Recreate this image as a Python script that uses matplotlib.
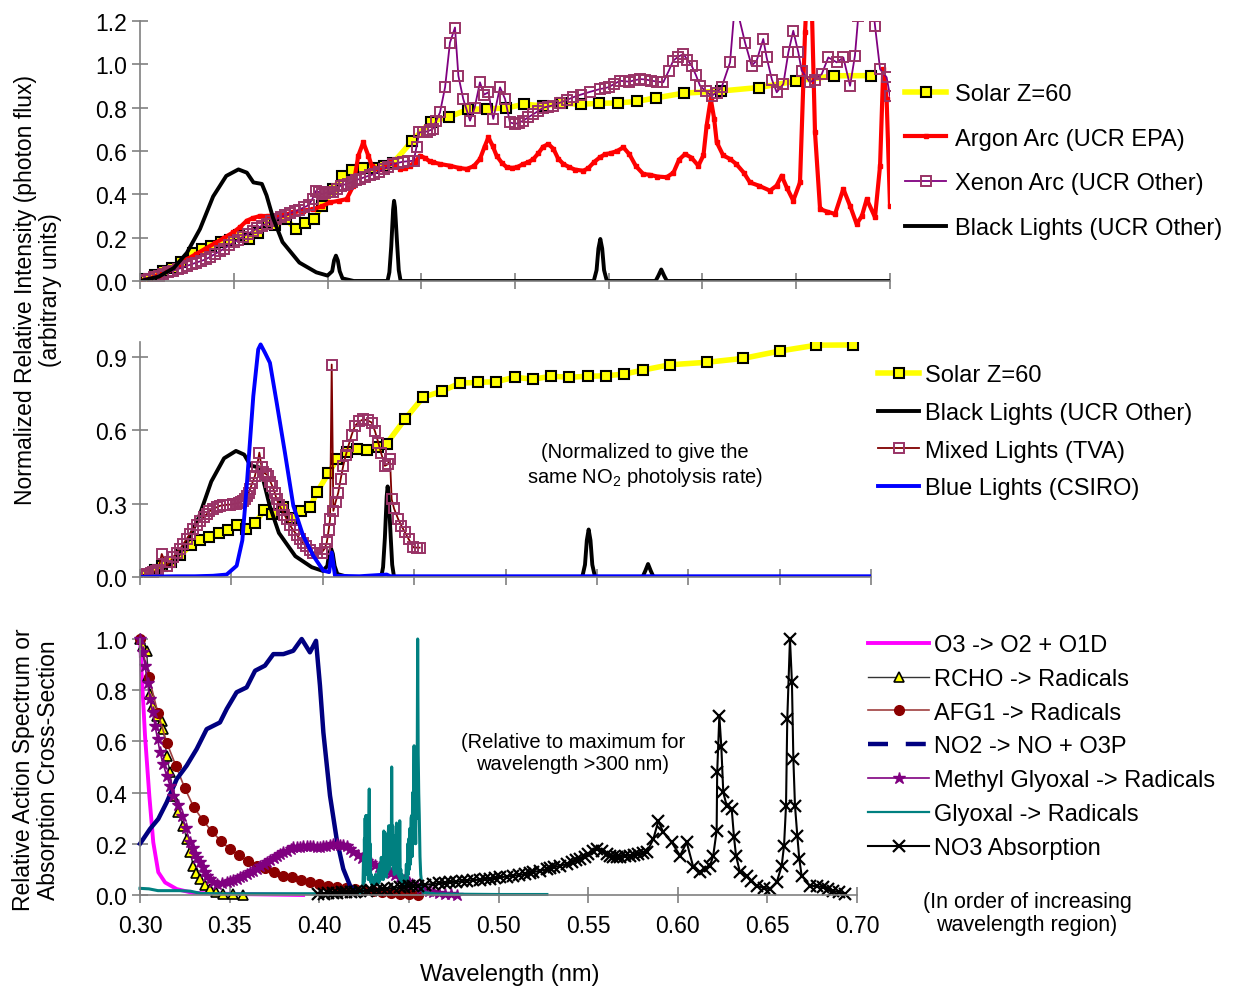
import numpy as np
import matplotlib
matplotlib.use("Agg")
import matplotlib.pyplot as plt
from matplotlib.lines import Line2D

plt.rcParams['font.family'] = ['Liberation Sans', 'DejaVu Sans']

# ---------------- data (wavelength in microns, relative values) ----------------
# top / middle panel: solar spectrum at Z=60
solar_wl = [0.300, 0.303, 0.308, 0.312, 0.317, 0.322, 0.328, 0.333, 0.338, 0.343,
            0.348, 0.353, 0.358, 0.363, 0.368, 0.372, 0.378, 0.383, 0.388, 0.393,
            0.397, 0.403, 0.408, 0.413, 0.419, 0.424, 0.430, 0.435, 0.445, 0.455,
            0.465, 0.475, 0.485, 0.495, 0.505, 0.515, 0.525, 0.535, 0.545, 0.555,
            0.565, 0.575, 0.590, 0.610, 0.630, 0.650, 0.670, 0.690]
solar_val = [0.0, 0.01, 0.03, 0.045, 0.06, 0.09, 0.13, 0.15, 0.162, 0.18,
             0.19, 0.212, 0.195, 0.22, 0.274, 0.257, 0.284, 0.24, 0.268, 0.285,
             0.348, 0.423, 0.483, 0.512, 0.522, 0.52, 0.53, 0.545, 0.645, 0.735,
             0.758, 0.792, 0.795, 0.798, 0.816, 0.808, 0.82, 0.816, 0.82, 0.822,
             0.829, 0.845, 0.867, 0.877, 0.893, 0.923, 0.947, 0.948]

# black lights (same normalisation in both upper panels)
bl_wl = [0.300, 0.310, 0.318, 0.325, 0.332, 0.339, 0.346, 0.3525, 0.357, 0.3605,
         0.365, 0.3675, 0.371, 0.376, 0.385, 0.394, 0.400, 0.4025, 0.4035, 0.4045,
         0.4055, 0.4065, 0.408, 0.414, 0.432, 0.433, 0.434, 0.435, 0.4355, 0.436,
         0.437, 0.438, 0.439, 0.542, 0.5435, 0.5445, 0.5455, 0.5465, 0.5475, 0.549,
         0.575, 0.5765, 0.578, 0.5795, 0.581, 0.700]
bl_val = [0.0, 0.02, 0.06, 0.13, 0.24, 0.39, 0.485, 0.515, 0.50, 0.455,
          0.448, 0.395, 0.29, 0.18, 0.085, 0.04, 0.025, 0.045, 0.095, 0.117,
          0.095, 0.045, 0.012, 0.0, 0.0, 0.04, 0.16, 0.33, 0.37, 0.34,
          0.19, 0.05, 0.0, 0.0, 0.05, 0.15, 0.194, 0.15, 0.05, 0.0,
          0.0, 0.025, 0.053, 0.025, 0.0, 0.0]

# argon arc (UCR EPA)
ar_wl = [0.300, 0.305, 0.310, 0.315, 0.320, 0.325, 0.330, 0.335, 0.340, 0.345,
         0.3498, 0.3535, 0.3569, 0.360, 0.364, 0.368, 0.3729, 0.377, 0.3818, 0.387,
         0.3924, 0.397, 0.4013, 0.406, 0.4102, 0.4138, 0.4164, 0.4191, 0.4218, 0.4236,
         0.426, 0.428, 0.4305, 0.4333, 0.436, 0.4387, 0.4415, 0.444, 0.4468, 0.4493,
         0.452, 0.4545, 0.4564, 0.460, 0.4653, 0.470, 0.4742, 0.478, 0.4813, 0.4838,
         0.4858, 0.488, 0.4902, 0.493, 0.4956, 0.4985, 0.501, 0.5044, 0.507, 0.5098,
         0.5125, 0.515, 0.5178, 0.5205, 0.523, 0.5258, 0.529, 0.532, 0.5364, 0.539,
         0.5423, 0.5453, 0.548, 0.551, 0.5545, 0.5578, 0.561, 0.5645, 0.5684, 0.572,
         0.576, 0.5809, 0.5845, 0.5875, 0.5907, 0.594, 0.5978, 0.6005, 0.6022, 0.6044,
         0.6062, 0.6076, 0.611, 0.6147, 0.618, 0.622, 0.6253, 0.630, 0.636, 0.6395,
         0.6422, 0.645, 0.6484, 0.652, 0.6547, 0.6564, 0.6582, 0.660, 0.6627, 0.6665,
         0.6707, 0.6751, 0.6787, 0.6822, 0.685, 0.6876, 0.692, 0.6947, 0.6964, 0.6982,
         0.700]
ar_val = [0.0, 0.01, 0.03, 0.05, 0.07, 0.10, 0.125, 0.15, 0.175, 0.20,
          0.225, 0.25, 0.278, 0.29, 0.30, 0.30, 0.30, 0.305, 0.317, 0.325,
          0.332, 0.345, 0.363, 0.37, 0.378, 0.44, 0.578, 0.64, 0.578, 0.532,
          0.52, 0.517, 0.53, 0.548, 0.535, 0.517, 0.522, 0.532, 0.55, 0.578,
          0.568, 0.552, 0.548, 0.54, 0.532, 0.522, 0.517, 0.53, 0.563, 0.62,
          0.663, 0.625, 0.578, 0.545, 0.525, 0.522, 0.525, 0.54, 0.548, 0.563,
          0.59, 0.62, 0.632, 0.61, 0.565, 0.54, 0.525, 0.514, 0.509, 0.52,
          0.55, 0.571, 0.585, 0.59, 0.60, 0.617, 0.585, 0.53, 0.494, 0.49,
          0.482, 0.479, 0.50, 0.56, 0.586, 0.57, 0.532, 0.58, 0.717, 0.84,
          0.75, 0.64, 0.58, 0.563, 0.54, 0.50, 0.455, 0.44, 0.417, 0.44,
          0.486, 0.43, 0.371, 0.455, 1.15, 1.45, 1.30, 0.686, 0.332, 0.32,
          0.309, 0.425, 0.347, 0.263, 0.30, 0.378, 0.294, 0.532, 0.978, 0.84,
          0.347]

# xenon arc (UCR Other)
xe_wl = [0.300, 0.3025, 0.305, 0.3075, 0.310, 0.3125, 0.315, 0.3175, 0.320, 0.3225,
         0.325, 0.3275, 0.330, 0.3325, 0.335, 0.3375, 0.340, 0.3425, 0.345, 0.3475,
         0.350, 0.3525, 0.355, 0.3575, 0.360, 0.3625, 0.365, 0.3675, 0.370, 0.3725,
         0.375, 0.3775, 0.380, 0.3825, 0.385, 0.3875, 0.390, 0.392, 0.394, 0.3955,
         0.397, 0.3985, 0.400, 0.4015, 0.403, 0.405, 0.407, 0.409, 0.411, 0.413,
         0.415, 0.4175, 0.420, 0.4225, 0.425, 0.4275, 0.430, 0.4325, 0.435, 0.4375,
         0.440, 0.443, 0.446, 0.4475, 0.449, 0.451, 0.453, 0.4545, 0.456, 0.458,
         0.460, 0.4627, 0.4653, 0.468, 0.4698, 0.4724, 0.476, 0.4785, 0.4813, 0.4835,
         0.4858, 0.4884, 0.492, 0.4947, 0.4973, 0.500, 0.502, 0.5044, 0.507, 0.5098,
         0.5125, 0.515, 0.5175, 0.520, 0.524, 0.5276, 0.531, 0.535, 0.540, 0.5453,
         0.548, 0.550, 0.553, 0.556, 0.5585, 0.561, 0.5635, 0.5667, 0.5695, 0.5725,
         0.576, 0.5791, 0.582, 0.5844, 0.587, 0.5898, 0.592, 0.5942, 0.5965, 0.5987,
         0.6018, 0.6049, 0.6075, 0.6102, 0.6147, 0.617, 0.6191, 0.6227, 0.6262, 0.6289,
         0.6324, 0.6342, 0.637, 0.6396, 0.6431, 0.6458, 0.6484, 0.6511, 0.6529, 0.6573,
         0.660, 0.6636, 0.6671, 0.6716, 0.6751, 0.6787, 0.6813, 0.6831, 0.687, 0.690,
         0.692, 0.6947, 0.6982, 0.700, 0.7036]
xe_val = [0.0, 0.005, 0.01, 0.017, 0.025, 0.032, 0.04, 0.047, 0.055, 0.062,
          0.07, 0.077, 0.085, 0.092, 0.10, 0.112, 0.125, 0.137, 0.15, 0.164,
          0.178, 0.191, 0.205, 0.218, 0.23, 0.243, 0.255, 0.265, 0.275, 0.285,
          0.295, 0.303, 0.312, 0.321, 0.33, 0.34, 0.35, 0.38, 0.417, 0.41,
          0.40, 0.405, 0.41, 0.41, 0.41, 0.425, 0.44, 0.445, 0.45, 0.457,
          0.465, 0.472, 0.48, 0.487, 0.494, 0.505, 0.515, 0.528, 0.54, 0.545,
          0.55, 0.553, 0.555, 0.62, 0.686, 0.688, 0.69, 0.695, 0.70, 0.74,
          0.778, 0.894, 1.10, 1.17, 0.947, 0.84, 0.74, 0.80, 0.917, 0.86,
          0.871, 0.748, 0.894, 0.84, 0.732, 0.725, 0.73, 0.74, 0.755, 0.77,
          0.785, 0.80, 0.805, 0.81, 0.823, 0.835, 0.848, 0.86, 0.873, 0.886,
          0.89, 0.895, 0.91, 0.924, 0.922, 0.92, 0.926, 0.932, 0.93, 0.925,
          0.92, 0.917, 0.97, 1.017, 1.035, 1.048, 1.02, 0.994, 0.95, 0.901,
          0.875, 0.855, 0.87, 0.894, 1.009, 1.25, 1.23, 1.10, 0.994, 1.017,
          1.117, 1.032, 0.93, 0.871, 0.909, 1.055, 1.155, 1.055, 0.971, 0.917,
          0.93, 0.955, 1.032, 1.009, 1.032, 0.901, 1.04, 1.224, 1.40, 1.35,
          1.178, 0.978, 0.94, 0.855, 0.717]

# mixed lights (TVA)
mx_wl = [0.300, 0.302, 0.304, 0.306, 0.3073, 0.309, 0.310, 0.3119, 0.3146, 0.3165,
         0.318, 0.320, 0.3219, 0.3237, 0.3255, 0.3273, 0.3292, 0.331, 0.333, 0.3348,
         0.3365, 0.338, 0.340, 0.342, 0.3438, 0.3455, 0.3475, 0.3493, 0.3511, 0.3525,
         0.354, 0.3553, 0.3565, 0.3575, 0.3585, 0.3595, 0.3602, 0.3615, 0.3629, 0.364,
         0.3653, 0.3665, 0.3675, 0.369, 0.3702, 0.3713, 0.3725, 0.3737, 0.3748, 0.376,
         0.3775, 0.379, 0.3803, 0.382, 0.384, 0.3858, 0.3876, 0.389, 0.391, 0.393,
         0.3948, 0.397, 0.3994, 0.401, 0.4022, 0.4032, 0.404, 0.4049, 0.4058, 0.407,
         0.4085, 0.4098, 0.4112, 0.4126, 0.414, 0.4158, 0.4176, 0.420, 0.4222, 0.4245,
         0.4268, 0.4286, 0.4304, 0.432, 0.434, 0.4355, 0.4368, 0.4377, 0.439, 0.4413,
         0.443, 0.445, 0.447, 0.4496, 0.4515, 0.453]
mx_val = [0.005, 0.008, 0.012, 0.016, 0.02, 0.026, 0.03, 0.094, 0.046, 0.062,
          0.08, 0.097, 0.114, 0.135, 0.155, 0.176, 0.196, 0.214, 0.23, 0.245,
          0.257, 0.268, 0.278, 0.285, 0.291, 0.293, 0.295, 0.296, 0.298, 0.30,
          0.303, 0.307, 0.311, 0.32, 0.33, 0.345, 0.359, 0.385, 0.413, 0.45,
          0.508, 0.45, 0.427, 0.42, 0.413, 0.39, 0.37, 0.345, 0.318, 0.296,
          0.275, 0.255, 0.236, 0.212, 0.19, 0.172, 0.155, 0.14, 0.125, 0.112,
          0.10, 0.098, 0.10, 0.115, 0.141, 0.19, 0.236, 0.868, 0.27, 0.305,
          0.345, 0.40, 0.454, 0.497, 0.535, 0.58, 0.617, 0.636, 0.644, 0.64,
          0.631, 0.595, 0.549, 0.505, 0.454, 0.46, 0.481, 0.318, 0.28, 0.236,
          0.21, 0.182, 0.155, 0.121, 0.12, 0.12]

# blue lights (CSIRO)
bu_wl = [0.300, 0.310, 0.320, 0.330, 0.340, 0.3474, 0.3529, 0.356, 0.3584, 0.362,
         0.3647, 0.366, 0.3684, 0.3711, 0.3748, 0.3793, 0.3839, 0.3893, 0.3948, 0.4003,
         0.4035, 0.4049, 0.4067, 0.420, 0.435, 0.437, 0.500, 0.600, 0.702]
bu_val = [0.0, 0.002, 0.003, 0.003, 0.005, 0.01, 0.046, 0.15, 0.372, 0.739,
          0.93, 0.95, 0.916, 0.875, 0.712, 0.508, 0.291, 0.168, 0.087, 0.026,
          0.02, 0.10, 0.005, 0.003, 0.01, 0.003, 0.003, 0.003, 0.003]

# bottom panel: action spectra / absorption cross sections
o3_wl = [0.300, 0.301, 0.3028, 0.3052, 0.3074, 0.3102, 0.314, 0.3205, 0.3297, 0.352, 0.391]
o3_val = [1.0, 0.857, 0.622, 0.388, 0.206, 0.089, 0.049, 0.023, 0.008, 0.004, 0.0]

rcho_wl = [0.300, 0.3019, 0.3037, 0.3046, 0.3056, 0.307, 0.3093, 0.3121, 0.313, 0.3149,
           0.3167, 0.3186, 0.3214, 0.3242, 0.326, 0.3279, 0.3297, 0.3315, 0.3335, 0.336,
           0.339, 0.3425, 0.3465, 0.352, 0.3576]
rcho_val = [1.0, 0.974, 0.954, 0.857, 0.785, 0.74, 0.70, 0.681, 0.648, 0.544,
            0.479, 0.388, 0.323, 0.271, 0.219, 0.167, 0.115, 0.085, 0.0625, 0.04,
            0.023, 0.012, 0.004, 0.002, 0.0]

afg1_wl = [0.300, 0.305, 0.310, 0.315, 0.320, 0.325, 0.330, 0.335, 0.340, 0.345,
           0.350, 0.355, 0.360, 0.365, 0.370, 0.375, 0.380, 0.385, 0.390, 0.395,
           0.400, 0.405, 0.410, 0.415, 0.420, 0.425, 0.430, 0.435, 0.440, 0.445,
           0.450, 0.455]
afg1_val = [1.0, 0.85, 0.71, 0.594, 0.505, 0.417, 0.343, 0.293, 0.249, 0.212,
            0.18, 0.156, 0.134, 0.115, 0.104, 0.089, 0.076, 0.069, 0.058, 0.049,
            0.043, 0.034, 0.03, 0.026, 0.023, 0.018, 0.014, 0.01, 0.007, 0.004,
            0.002, 0.0]

no2_wl = [0.300, 0.3056, 0.3102, 0.3149, 0.3205, 0.326, 0.3316, 0.3372, 0.3409, 0.3446,
          0.3484, 0.3539, 0.3595, 0.3642, 0.3697, 0.3744, 0.380, 0.3855, 0.3902, 0.3948,
          0.3982, 0.4004, 0.4023, 0.406, 0.4097, 0.4134, 0.4172, 0.4209]
no2_val = [0.2, 0.258, 0.297, 0.362, 0.453, 0.505, 0.57, 0.648, 0.661, 0.674,
           0.727, 0.792, 0.811, 0.876, 0.896, 0.941, 0.941, 0.954, 1.0, 0.948,
           0.993, 0.818, 0.635, 0.388, 0.219, 0.102, 0.036, 0.01]

mgly_wl = [0.300, 0.3014, 0.3028, 0.3042, 0.3056, 0.307, 0.3084, 0.3098, 0.3112, 0.313,
           0.3149, 0.3168, 0.3186, 0.321, 0.3233, 0.3256, 0.3279, 0.3293, 0.3307, 0.332,
           0.3335, 0.335, 0.336, 0.3375, 0.339, 0.341, 0.3428, 0.3455, 0.3484, 0.350,
           0.352, 0.354, 0.3558, 0.3577, 0.3595, 0.3614, 0.3632, 0.365, 0.367, 0.369,
           0.3707, 0.3725, 0.3745, 0.3763, 0.3781, 0.380, 0.382, 0.384, 0.3855, 0.3875,
           0.3893, 0.391, 0.393, 0.395, 0.3967, 0.3985, 0.4004, 0.402, 0.404, 0.406,
           0.4078, 0.4097, 0.4115, 0.4135, 0.4153, 0.4172, 0.419, 0.4215, 0.424, 0.4265,
           0.429, 0.431, 0.4335, 0.4357, 0.438, 0.440, 0.4425, 0.4451, 0.4475, 0.450,
           0.452, 0.4544, 0.457, 0.459, 0.461, 0.4636, 0.467, 0.470, 0.4735, 0.4767]
mgly_val = [1.0, 0.95, 0.896, 0.83, 0.766, 0.713, 0.661, 0.61, 0.557, 0.51,
            0.466, 0.427, 0.388, 0.35, 0.31, 0.26, 0.206, 0.183, 0.16, 0.143,
            0.128, 0.108, 0.09, 0.075, 0.0625, 0.052, 0.043, 0.045, 0.049, 0.053,
            0.058, 0.063, 0.069, 0.075, 0.082, 0.088, 0.095, 0.103, 0.112, 0.12,
            0.128, 0.137, 0.145, 0.153, 0.16, 0.167, 0.173, 0.18, 0.186, 0.187,
            0.188, 0.19, 0.193, 0.192, 0.19, 0.188, 0.186, 0.19, 0.193, 0.196,
            0.199, 0.198, 0.197, 0.195, 0.193, 0.18, 0.168, 0.155, 0.145, 0.134,
            0.125, 0.118, 0.11, 0.102, 0.093, 0.085, 0.077, 0.069, 0.06, 0.052,
            0.044, 0.036, 0.029, 0.022, 0.016, 0.01, 0.007, 0.004, 0.002, 0.0]

gly_wl = [0.300, 0.305, 0.310, 0.316, 0.322, 0.328, 0.334, 0.345, 0.360, 0.380,
          0.400, 0.420, 0.4240, 0.4244, 0.4247, 0.4250, 0.4252, 0.4254, 0.4256, 0.4258,
          0.4260, 0.4262, 0.4265, 0.4268, 0.4271, 0.4274, 0.4277, 0.4279, 0.4282, 0.4284,
          0.4287, 0.4290, 0.4294, 0.4298, 0.4302, 0.4306, 0.4310, 0.4314, 0.4318, 0.4322,
          0.4326, 0.4330, 0.4334, 0.4338, 0.4342, 0.4346, 0.4350, 0.4354, 0.4357, 0.4360,
          0.4363, 0.4366, 0.4369, 0.4372, 0.4375, 0.4378, 0.4381, 0.4384, 0.4387, 0.4390,
          0.4393, 0.4396, 0.4399, 0.4402, 0.4404, 0.4407, 0.4410, 0.4413, 0.4416, 0.4419,
          0.4422, 0.4425, 0.4428, 0.4431, 0.4434, 0.4437, 0.4440, 0.4443, 0.4446, 0.4449,
          0.4452, 0.4455, 0.4458, 0.4462, 0.4466, 0.4470, 0.4474, 0.4478, 0.4482, 0.4486,
          0.4490, 0.4494, 0.4497, 0.4500, 0.4503, 0.4506, 0.4509, 0.4512, 0.4515, 0.4518,
          0.4521, 0.4524, 0.4527, 0.4529, 0.4532, 0.4535, 0.4538, 0.4541, 0.4544, 0.4547,
          0.4549, 0.4552, 0.4555, 0.4558, 0.4562, 0.4566, 0.4571, 0.4580, 0.465, 0.480,
          0.500, 0.527]
gly_val = [0.026, 0.024, 0.017, 0.017, 0.017, 0.015, 0.006, 0.005, 0.005, 0.005,
           0.005, 0.006, 0.01, 0.04, 0.15, 0.05, 0.22, 0.10, 0.30, 0.12,
           0.31, 0.10, 0.31, 0.08, 0.22, 0.06, 0.30, 0.414, 0.08, 0.2,
           0.05, 0.08, 0.04, 0.065, 0.04, 0.07, 0.04, 0.08, 0.05, 0.06,
           0.04, 0.10, 0.05, 0.12, 0.06, 0.147, 0.07, 0.12, 0.06, 0.25,
           0.08, 0.244, 0.10, 0.17, 0.07, 0.2, 0.09, 0.22, 0.27, 0.10,
           0.27, 0.12, 0.25, 0.15, 0.5, 0.12, 0.27, 0.10, 0.22, 0.08,
           0.23, 0.10, 0.18, 0.281, 0.09, 0.2, 0.08, 0.2, 0.07, 0.29,
           0.06, 0.10, 0.05, 0.08, 0.04, 0.065, 0.04, 0.065, 0.05, 0.12,
           0.06, 0.2, 0.08, 0.22, 0.10, 0.26, 0.12, 0.30, 0.31, 0.15,
           0.40, 0.20, 0.45, 0.583, 0.25, 0.35, 0.20, 0.44, 0.30, 0.60,
           1.0, 0.55, 0.40, 0.31, 0.15, 0.08, 0.05, 0.01, 0.004, 0.003,
           0.002, 0.002]

no3_wl = [0.3995, 0.4025, 0.405, 0.4075, 0.410, 0.4125, 0.415, 0.4175, 0.420, 0.423,
          0.4265, 0.429, 0.432, 0.435, 0.438, 0.4415, 0.4451, 0.4475, 0.450, 0.4525,
          0.455, 0.459, 0.4636, 0.467, 0.470, 0.473, 0.4765, 0.4795, 0.4823, 0.486,
          0.4897, 0.4925, 0.495, 0.498, 0.5008, 0.5045, 0.508, 0.5115, 0.515, 0.5175,
          0.5194, 0.523, 0.5269, 0.529, 0.531, 0.5345, 0.538, 0.541, 0.5435, 0.5455,
          0.548, 0.550, 0.5525, 0.5548, 0.5575, 0.5604, 0.562, 0.564, 0.566, 0.568,
          0.5705, 0.5734, 0.5755, 0.578, 0.5805, 0.5827, 0.5864, 0.5892, 0.5919, 0.5966,
          0.6013, 0.605, 0.6087, 0.6124, 0.615, 0.618, 0.6198, 0.6217, 0.622, 0.6232,
          0.6243, 0.6254, 0.6273, 0.6301, 0.6314, 0.6325, 0.6347, 0.6385, 0.641, 0.644,
          0.648, 0.6515, 0.6552, 0.658, 0.6593, 0.6604, 0.6611, 0.6626, 0.6637, 0.6645,
          0.6654, 0.6667, 0.6678, 0.6691, 0.6738, 0.6775, 0.6812, 0.684, 0.6868, 0.690,
          0.6933]
no3_val = [0.003, 0.005, 0.006, 0.008, 0.009, 0.01, 0.011, 0.012, 0.013, 0.015,
           0.017, 0.019, 0.021, 0.023, 0.025, 0.028, 0.03, 0.032, 0.034, 0.036,
           0.037, 0.04, 0.043, 0.046, 0.048, 0.05, 0.052, 0.054, 0.056, 0.058,
           0.06, 0.062, 0.064, 0.066, 0.069, 0.072, 0.075, 0.078, 0.082, 0.086,
           0.089, 0.095, 0.1, 0.104, 0.108, 0.115, 0.121, 0.13, 0.135, 0.141,
           0.15, 0.16, 0.17, 0.18, 0.17, 0.16, 0.152, 0.147, 0.148, 0.15,
           0.152, 0.154, 0.157, 0.16, 0.163, 0.167, 0.219, 0.29, 0.245, 0.206,
           0.154, 0.206, 0.108, 0.089, 0.10, 0.115, 0.154, 0.251, 0.479, 0.70,
           0.58, 0.401, 0.349, 0.336, 0.225, 0.154, 0.089, 0.076, 0.055, 0.036,
           0.028, 0.023, 0.049, 0.115, 0.193, 0.349, 0.687, 1.0, 0.831, 0.531,
           0.349, 0.232, 0.141, 0.076, 0.036, 0.035, 0.03, 0.022, 0.017, 0.01,
           0.004]

xticks = [0.30, 0.35, 0.40, 0.45, 0.50, 0.55, 0.60, 0.65, 0.70]

# ---------------- figure ----------------
W, H = 1233, 987
fig = plt.figure(figsize=(W / 100, H / 100), dpi=100)


def box(l, t, r, b):
    return [l / W, 1 - b / H, (r - l) / W, (b - t) / H]


ax1 = fig.add_axes(box(140, 22, 890, 282))
ax2 = fig.add_axes(box(140, 343, 871, 578))
ax3 = fig.add_axes(box(140, 640, 857, 896))

for ax in (ax1, ax2, ax3):
    for s in ('top', 'right'):
        ax.spines[s].set_visible(False)
    for s in ('left', 'bottom'):
        ax.spines[s].set_color('#808080')
        ax.spines[s].set_linewidth(1.2)
    ax.tick_params(direction='inout', length=11, width=1.2, color='#808080',
                   labelsize=16.5, labelcolor='black', pad=4)
    ax.set_xlim(0.30, 0.70)
    ax.set_xticks(xticks)

# top panel
ax1.plot(solar_wl, solar_val, color='yellow', lw=4, marker='s', ms=6.5,
         mfc='yellow', mec='black', mew=1.5, label='Solar Z=60')
ax1.plot(ar_wl, ar_val, color='red', lw=3, marker='s', ms=3.5, mfc='red',
         mec='red', label='Argon Arc (UCR EPA)')
ax1.plot(xe_wl, xe_val, color='#800080', lw=1.3, marker='s', ms=7, mfc='none',
         mec='#993366', mew=1.4, label='Xenon Arc (UCR Other)')
ax1.plot(bl_wl, bl_val, color='black', lw=2.8, label='Black Lights (UCR Other)')
ax1.set_ylim(0, 1.2)
ax1.set_yticks([0.0, 0.2, 0.4, 0.6, 0.8, 1.0, 1.2])
ax1.set_yticklabels(['%.1f' % v for v in ax1.get_yticks()])
ax1.tick_params(labelbottom=False)
ax1.legend(loc='upper left', bbox_to_anchor=(905 / W, 1 - 84 / H),
           bbox_transform=fig.transFigure, frameon=False, fontsize=17,
           handlelength=1.75, handletextpad=0.35, labelspacing=0.96,
           borderpad=0, borderaxespad=0)

# middle panel
ax2.plot(solar_wl, solar_val, color='yellow', lw=4, marker='s', ms=6.5,
         mfc='yellow', mec='black', mew=1.5, label='Solar Z=60')
ax2.plot(bl_wl, bl_val, color='black', lw=2.8, label='Black Lights (UCR Other)')
ax2.plot(mx_wl, mx_val, color='#800000', lw=1.3, marker='s', ms=7, mfc='none',
         mec='#993366', mew=1.4, label='Mixed Lights (TVA)')
ax2.plot(bu_wl, bu_val, color='#0000FF', lw=2.8, label='Blue Lights (CSIRO)')
ax2.set_ylim(0, 0.96)
ax2.set_yticks([0.0, 0.3, 0.6, 0.9])
ax2.set_yticklabels(['%.1f' % v for v in ax2.get_yticks()])
ax2.tick_params(labelbottom=False)
ax2.legend(loc='upper left', bbox_to_anchor=(878 / W, 1 - 365 / H),
           bbox_transform=fig.transFigure, frameon=False, fontsize=17,
           handlelength=1.75, handletextpad=0.25, labelspacing=0.67,
           borderpad=0, borderaxespad=0)
fig.text(645 / W, 1 - 466 / H,
         '(Normalized to give the\nsame NO$\\mathregular{_2}$ photolysis rate)',
         ha='center', va='center', fontsize=14.5, linespacing=1.2)

# bottom panel
ax3.plot(o3_wl, o3_val, color='#FF00FF', lw=2.8, label='O3 -> O2 + O1D', clip_on=False)
ax3.plot(rcho_wl, rcho_val, color='#333333', lw=1, marker='^', ms=7, mfc='yellow',
         mec='black', mew=1.2, label='RCHO -> Radicals', clip_on=False)
ax3.plot(afg1_wl, afg1_val, color='#A04040', lw=1.2, marker='o', ms=7,
         mfc='#8B0000', mec='#8B0000', label='AFG1 -> Radicals', clip_on=False)
ax3.plot(no2_wl, no2_val, color='#000080', lw=3.2,
         label='NO2 -> NO + O3P', clip_on=False)
ax3.plot(mgly_wl, mgly_val, color='#800080', lw=1.2, marker='*', ms=9,
         mfc='#800080', mec='#800080', label='Methyl Glyoxal -> Radicals', clip_on=False)
ax3.plot(gly_wl, gly_val, color='#008080', lw=2.2, label='Glyoxal -> Radicals', clip_on=False)
ax3.plot(no3_wl, no3_val, color='black', lw=1.5, marker='x', ms=9, mew=1.6,
         label='NO3 Absorption', clip_on=False)
ax3.set_ylim(0, 1.0)
ax3.set_yticks([0.0, 0.2, 0.4, 0.6, 0.8, 1.0])
ax3.set_yticklabels(['%.1f' % v for v in ax3.get_yticks()])
ax3.set_xticklabels(['%.2f' % v for v in xticks])
ax3.tick_params(axis='x', pad=8)

handles, labels = ax3.get_legend_handles_labels()
handles[3] = Line2D([], [], color='#000080', lw=3.2, linestyle=(0, (4.5, 4.0)))
handles[5] = Line2D([], [], color='#008080', lw=1.6)
ax3.legend(handles, labels, loc='upper left', bbox_to_anchor=(868 / W, 1 - 635 / H),
           bbox_transform=fig.transFigure, frameon=False, fontsize=17,
           handlelength=2.6, handletextpad=0.2, labelspacing=0.5,
           borderpad=0, borderaxespad=0)
fig.text(573 / W, 1 - 754 / H, '(Relative to maximum for\nwavelength >300 nm)',
         ha='center', va='center', fontsize=14.5, linespacing=1.2)
fig.text(1027 / W, 1 - 914 / H, '(In order of increasing\nwavelength region)',
         ha='center', va='center', fontsize=15.5, linespacing=1.15)

# axis labels
fig.text(38 / W, 1 - 290 / H,
         'Normalized Relative Intensity (photon flux)\n(arbitrary units)',
         rotation=90, ha='center', va='center', fontsize=16.5, linespacing=1.15)
fig.text(36 / W, 1 - 770 / H,
         'Relative Action Spectrum or\nAbsorption Cross-Section',
         rotation=90, ha='center', va='center', fontsize=16.5, linespacing=1.15)
fig.text(510 / W, 1 - 975 / H, 'Wavelength (nm)', ha='center', va='center',
         fontsize=17)

fig.savefig('out.png', dpi=100)
